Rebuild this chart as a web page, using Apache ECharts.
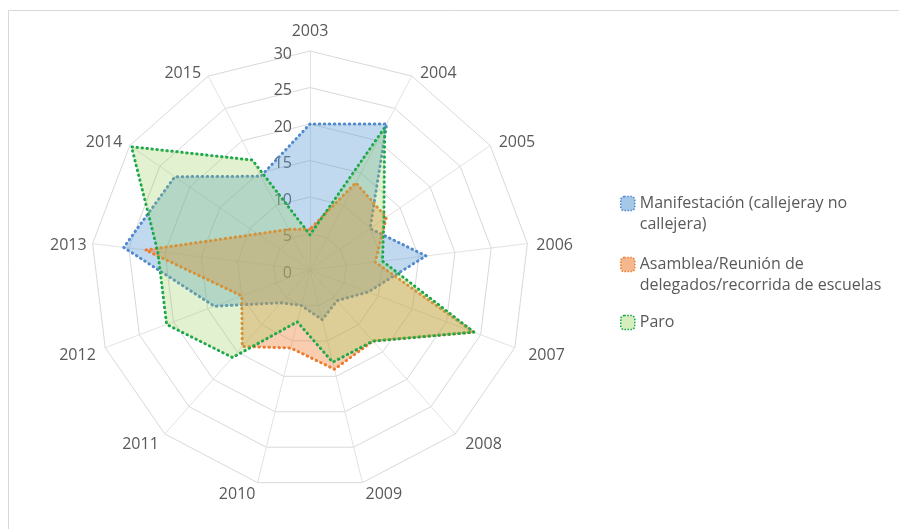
<!DOCTYPE html>
<html>
<head>
<meta charset="utf-8">
<script src="https://cdn.jsdelivr.net/npm/echarts@6/dist/echarts.min.js"></script>
<style>
  html, body { margin: 0; padding: 0; background: #ffffff; }
  #chart { width: 899px; height: 529px; }
</style>
</head>
<body>
<div id="chart"></div>
<script>
// Years around the radar, clockwise from the top
var years = ['2003', '2004', '2005', '2006', '2007', '2008', '2009', '2010', '2011', '2012', '2013', '2014', '2015'];

// Number of actions per year, by type
var manifestacion = [20, 22.6, 10, 16, 8.5, 5.6, 7, 5, 6, 14, 25.7, 22.5, 14.5];
var asamblea      = [5.6, 13.5, 12.7, 9, 24, 13, 14, 11, 14, 10, 22.7, 8.7, 6.3];
var paro          = [4.8, 22, 12.3, 10, 24, 13, 13, 7.3, 16, 21, 21, 29.7, 17];

var seriesNames = [
  'Manifestación (callejeray no callejera)',
  'Asamblea/Reunión de delegados/recorrida de escuelas',
  'Paro'
];
var legendLabels = [
  'Manifestación (callejeray no\ncallejera)',
  'Asamblea/Reunión de\ndelegados/recorrida de escuelas',
  'Paro'
];

// Radial scale ticks
var radialMin = 0, radialMax = 30, radialStep = 5;

// ECharts lays radar indicators out counter-clockwise, so the first year
// stays on top and the rest are listed in reverse to run clockwise.
function clockwise(arr) {
  return [arr[0]].concat(arr.slice(1).reverse());
}

var FONT = '"Open Sans", sans-serif';
var TEXT = '#595959';

var lineColors = ['#4f86cc', '#ed7d31', '#0fa44a'];
var fillColors = ['rgba(91,155,213,0.55)', 'rgba(237,125,49,0.55)', 'rgba(146,208,80,0.38)'];

// Fine placement of each year label around the outer ring: [top, right, bottom, left]
var namePadding = {
  '2003': [0, 0, 3, 0],
  '2004': [10, 0, 0, 4],
  '2005': [4, 0, 0, 1],
  '2006': [6, 0, 0, 0],
  '2007': [10, 0, 0, 5],
  '2008': [8, 0, 0, 4],
  '2009': [6, 0, 0, 1],
  '2010': [6, 0, 0, 0],
  '2011': [8, 0, 0, 0],
  '2012': [10, 1, 0, 0],
  '2013': [6, -3, 0, 0],
  '2014': [4, 0, 0, 0],
  '2015': [10, 3, 0, 0]
};
var nameRich = {};
years.forEach(function (y) {
  nameRich['y' + y] = { color: TEXT, fontFamily: FONT, fontSize: 16, padding: namePadding[y] };
});

var chart = echarts.init(document.getElementById('chart'), null, { renderer: 'canvas' });

var values = [manifestacion, asamblea, paro];

// One legend block per series; the leading blank line keeps the swatch
// level with the first line of a two-line label.
var legendTops = [172, 233, 312];
var legends = seriesNames.map(function (n, i) {
  return {
    orient: 'vertical',
    left: 620,
    top: legendTops[i],
    padding: 0,
    itemWidth: 14,
    itemHeight: 14,
    icon: 'roundRect',
    textStyle: { fontFamily: FONT, fontSize: 16, color: TEXT, lineHeight: 21 },
    formatter: function (name) {
      var label = legendLabels[seriesNames.indexOf(name)];
      return label.indexOf('\n') >= 0 ? '\n' + label : label;
    },
    data: [{
      name: n,
      itemStyle: {
        color: fillColors[i],
        borderColor: lineColors[i],
        borderWidth: 1.5,
        borderType: 'dotted'
      }
    }]
  };
});

chart.setOption({
  backgroundColor: '#ffffff',
  animation: false,
  graphic: [{
    type: 'rect',
    shape: { x: 8.5, y: 10.5, width: 1000, height: 1000 },
    style: { fill: 'none', stroke: '#d9d9d9', lineWidth: 1 },
    silent: true
  }],
  legend: legends,
  radar: {
    center: [310, 270],
    radius: 219,
    startAngle: 90,
    shape: 'polygon',
    splitNumber: 6,
    indicator: clockwise(years).map(function (y) {
      return { name: y, min: radialMin, max: radialMax };
    }),
    nameGap: 9,
    axisName: {
      color: TEXT, fontFamily: FONT, fontSize: 16,
      formatter: function (name) { return '{y' + name + '|' + name + '}'; },
      rich: nameRich
    },
    splitArea: { show: false },
    splitLine: { lineStyle: { color: '#d9d9d9', width: 1 } },
    axisLine: { lineStyle: { color: '#e3e3e3', width: 1 } },
    axisTick: { show: false },
    axisLabel: { show: false }
  },
  // Value scale printed along the 2003 spoke
  grid: { left: 310, top: 54, width: 1, height: 219 },
  xAxis: { type: 'value', show: false },
  yAxis: {
    type: 'value',
    min: radialMin,
    max: radialMax,
    interval: radialStep,
    axisLine: { show: false },
    axisTick: { show: false },
    splitLine: { show: false },
    axisLabel: { color: TEXT, fontFamily: FONT, fontSize: 16, margin: 18 }
  },
  series: [{
    type: 'radar',
    symbol: 'none',
    data: values.map(function (v, i) {
      return {
        name: seriesNames[i],
        value: clockwise(v),
        lineStyle: { color: lineColors[i], width: 3, type: [0.5, 4.5], cap: 'round' },
        areaStyle: { color: fillColors[i] },
        itemStyle: { color: lineColors[i] }
      };
    })
  }]
});
</script>
</body>
</html>
